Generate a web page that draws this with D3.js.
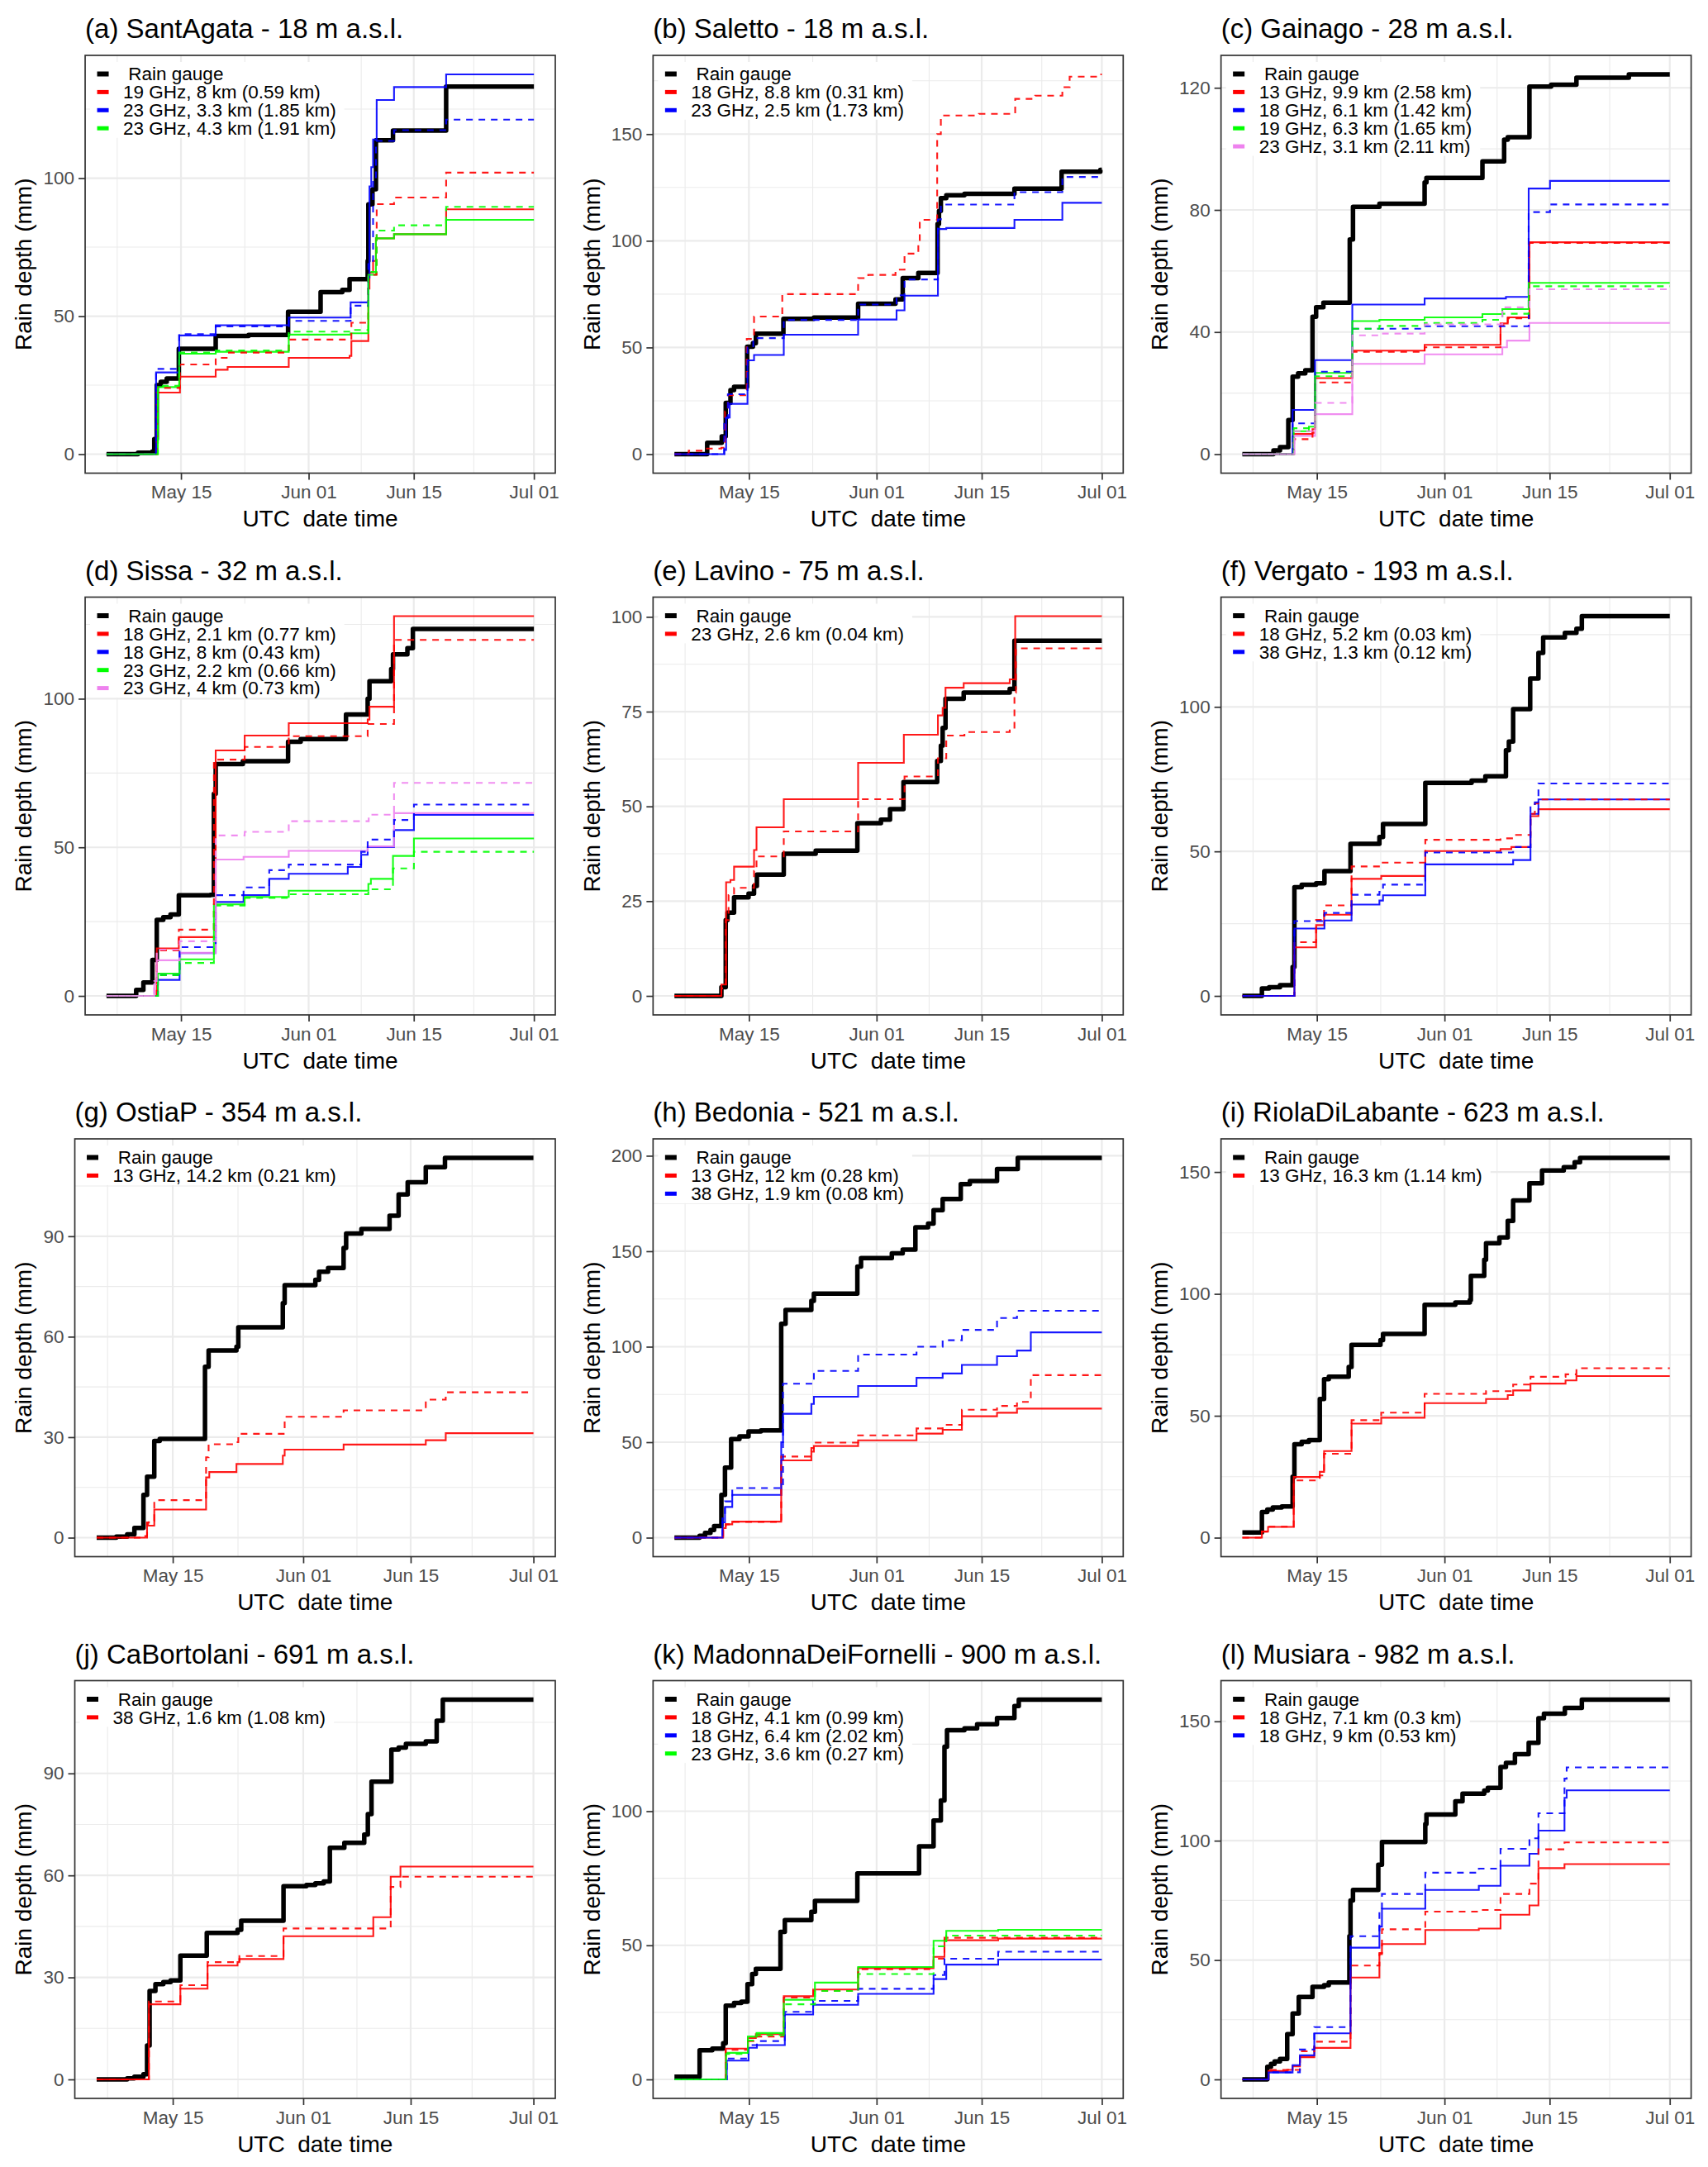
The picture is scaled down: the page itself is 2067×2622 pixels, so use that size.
<!DOCTYPE html>
<html lang="en">
<head>
<meta charset="UTF-8">
<title>Cumulative rain depth</title>
<script src="https://cdn.jsdelivr.net/npm/d3@7"></script>
<style>body{margin:0;background:#fff}</style>
</head>
<body>
<script>
// x values are "day of May" (15 = May 15, 32 = Jun 01, 62 = Jul 01), y values are mm
var periodEnd = 62;
var xTickDays = [15, 32, 46, 62];
var xMinorDays = [6.5, 23.5, 39, 54];

var titles = ["(a) SantAgata - 18 m a.s.l.", "(b) Saletto - 18 m a.s.l.", "(c) Gainago - 28 m a.s.l.",
  "(d) Sissa - 32 m a.s.l.", "(e) Lavino - 75 m a.s.l.", "(f) Vergato - 193 m a.s.l.",
  "(g) OstiaP - 354 m a.s.l.", "(h) Bedonia - 521 m a.s.l.", "(i) RiolaDiLabante - 623 m a.s.l.",
  "(j) CaBortolani - 691 m a.s.l.", "(k) MadonnaDeiFornelli - 900 m a.s.l.", "(l) Musiara - 982 m a.s.l."];

var yTicks = [[0, 50, 100], [0, 50, 100, 150], [0, 40, 80, 120], [0, 50, 100], [0, 25, 50, 75, 100], [0, 50, 100],
  [0, 30, 60, 90], [0, 50, 100, 150, 200], [0, 50, 100, 150], [0, 30, 60, 90], [0, 50, 100], [0, 50, 100, 150]];

var linkLabels = [
  ["19 GHz, 8 km (0.59 km)", "23 GHz, 3.3 km (1.85 km)", "23 GHz, 4.3 km (1.91 km)"],
  ["18 GHz, 8.8 km (0.31 km)", "23 GHz, 2.5 km (1.73 km)"],
  ["13 GHz, 9.9 km (2.58 km)", "18 GHz, 6.1 km (1.42 km)", "19 GHz, 6.3 km (1.65 km)", "23 GHz, 3.1 km (2.11 km)"],
  ["18 GHz, 2.1 km (0.77 km)", "18 GHz, 8 km (0.43 km)", "23 GHz, 2.2 km (0.66 km)", "23 GHz, 4 km (0.73 km)"],
  ["23 GHz, 2.6 km (0.04 km)"],
  ["18 GHz, 5.2 km (0.03 km)", "38 GHz, 1.3 km (0.12 km)"],
  ["13 GHz, 14.2 km (0.21 km)"],
  ["13 GHz, 12 km (0.28 km)", "38 GHz, 1.9 km (0.08 km)"],
  ["13 GHz, 16.3 km (1.14 km)"],
  ["38 GHz, 1.6 km (1.08 km)"],
  ["18 GHz, 4.1 km (0.99 km)", "18 GHz, 6.4 km (2.02 km)", "23 GHz, 3.6 km (0.27 km)"],
  ["18 GHz, 7.1 km (0.3 km)", "18 GHz, 9 km (0.53 km)"]
];

// (a) SantAgata
var gaugeA = [[5.08,0],[9.27,0.5],[11.19,1],[11.44,5.5],[11.77,25],[12.3,26.2],[13.1,27.4],[14.71,38.2],[19.62,42.8],[24,43.2],[29.26,51.6],[33.59,58.7],[36.48,59.5],[37.45,63.4],[39.86,70],[39.95,90.5],[40.5,96],[40.96,113.7],[43.23,117.2],[50.31,133.2]];
var solidA = [
  [[5.08,0],[11.77,22.3],[14.86,28.1],[19.62,30.6],[21.21,31.6],[29.35,34.9],[37.45,35.6],[37.69,41],[39.95,60],[40.1,65.8],[40.58,70],[40.96,78.2],[43.37,79.7],[50.31,88.7]],
  [[5.08,0],[11.68,29.6],[14.76,43],[19.62,46.7],[29.35,49.5],[37.59,55],[39.95,64],[40.1,97],[40.34,104],[40.58,114],[41.06,128.3],[43.37,133],[50.31,137.6]],
  [[5.08,0],[11.92,24.3],[14.76,36.4],[19.62,37.1],[29.35,43.3],[37.59,43.8],[39.95,65],[40.96,78.2],[43.37,79.7],[50.31,84.9]]
];
var dashedA = [
  [[5.08,0],[11.77,24],[14.86,32.5],[19.62,34.9],[21.21,36.8],[29.35,41.5],[37.69,47.6],[39.95,65],[41.06,90.6],[43.37,93],[50.31,102]],
  [[5.08,0],[11.68,30.9],[14.76,43.5],[19.62,46.3],[29.35,48.3],[37.59,53.8],[39.95,70],[40.58,99],[40.96,113.5],[43.37,117.4],[50.31,121.2]],
  [[5.08,0],[11.92,24.8],[14.76,36.8],[19.62,37.6],[29.35,44.4],[37.59,45],[39.95,66],[41.06,81],[43.37,82.9],[50.31,89.6]]
];

// (b) Saletto
var gaugeB = [[5.08,0],[9.44,5.3],[11.38,8.3],[11.91,24],[12.54,30],[13.02,31.6],[14.76,50.4],[15.53,52],[15.92,56.5],[19.59,63.4],[23.65,64],[29.54,70.5],[34.52,72.5],[35.48,82.5],[37.56,84.9],[40.12,107.9],[40.31,114],[40.56,120],[41.28,121.3],[43.7,122],[50.36,124.4],[56.64,132.4],[61.8,133.3]];
var solidB = [
  [[5.08,0],[6.98,1.6],[9.4,2.6],[11.33,3],[11.81,20],[12.2,27.6],[14.71,54],[15.68,64.5],[19.44,75],[29.54,82.5],[30.89,84],[34.52,86.5],[35.72,94],[37.56,98.5],[37.75,109.8],[40.07,150],[40.56,158.7],[45.63,159.5],[50.46,166.5],[53.12,168],[56.74,172],[57.71,176.9]],
  [[5.08,0],[11.71,2],[11.96,17.2],[12.44,23.6],[14.81,44],[15.68,46.5],[19.64,56],[29.54,63.1],[34.66,67.4],[35.72,74.3],[40.17,105.5],[41.28,106],[50.36,109.8],[56.74,117.8]]
];
var dashedB = [
  [[5.08,0],[6.98,1.6],[9.4,2.6],[11.33,3],[11.81,20],[12.2,27.6],[14.71,54],[15.68,64.5],[19.44,75],[29.54,82.5],[30.89,84],[34.52,86.5],[35.72,94],[37.56,98.5],[37.75,109.8],[40.07,150],[40.56,158.7],[45.63,159.5],[50.46,166.5],[53.12,168],[56.74,172],[57.71,176.9],[61.5,178]],
  [[5.08,0],[11.71,17],[12.2,28.1],[14.81,50],[15.58,54.4],[19.64,62.9],[29.54,70.1],[34.66,74.5],[35.72,81.9],[40.17,110],[40.56,117],[50.36,122.8],[56.74,129.9]]
];
// the 18 GHz link in (b) only shows a dashed trace
var solidBShown = [false, true];

// (c) Gainago
var gaugeC = [[5.08,0],[9.22,1.2],[10.09,2.3],[11.2,11.2],[11.77,25.4],[12.5,26.5],[13.46,27.5],[14.42,45],[14.9,48.1],[15.87,49.6],[19.38,70.3],[19.81,81],[23.33,82],[29.35,89],[29.59,90.5],[37.05,95.9],[39.94,103],[40.42,103.8],[43.31,120.4],[46.2,121],[49.57,123.3],[56.55,124.4]];
var solidC = [
  [[5.08,0],[11.87,6.6],[14.42,8.2],[14.76,24.9],[19.72,33.9],[29.35,35.8],[39.46,42.8],[40.42,44.8],[43.31,69.4]],
  [[5.08,0],[11.77,14.5],[14.76,30.8],[19.72,49],[29.35,51],[40.18,51.5],[43.21,87],[46.05,89.5]],
  [[5.08,0],[11.92,7.5],[13.94,9],[14.76,26.6],[19.72,43.6],[23.33,44],[29.35,44.8],[37.05,45.9],[39.7,47.5],[43.21,56.1]],
  [[5.08,0],[12.01,6],[14.76,13.1],[19.72,29.6],[29.35,32.7],[39.7,35],[40.32,37.2],[43.31,43]]
];
var dashedC = [
  [[5.08,0],[11.87,4.9],[14.42,7],[14.76,23.5],[19.72,33.5],[29.35,35],[39.46,42.2],[40.42,44.5],[43.31,69.2]],
  [[5.08,0],[11.77,10.1],[14.76,27],[19.72,41.1],[29.35,41.9],[43.21,79.3],[46.05,81.8]],
  [[5.08,0],[11.92,8.5],[14.76,25.5],[19.72,41.1],[23.33,42],[29.35,43],[37.05,44],[39.7,46],[43.21,55]],
  [[5.08,0],[12.01,7.5],[14.76,16.8],[19.72,38.9],[23.33,39.5],[29.35,42.5],[39.7,48.1],[43.31,54]]
];

// (d) Sissa
var gaugeD = [[5.08,0],[9.03,2],[9.99,4.5],[11.19,12.1],[11.77,25.6],[12.64,26.5],[13.6,27.4],[14.71,33.9],[18.9,34],[19.38,68],[19.62,78],[23.24,79],[29.26,85.5],[30.94,86.4],[36.97,94.7],[39.86,100],[40.1,105.9],[42.99,110],[43.23,114.9],[45.15,117],[45.88,123.5]];
var solidD = [
  [[5.08,0],[11.77,16],[14.71,19.8],[19.62,82.6],[23.48,87.6],[29.35,91.8],[39.86,93],[40.1,97.3],[43.37,127.8]],
  [[5.08,0],[11.92,5.4],[14.81,14.4],[19.62,31.6],[23.33,33.9],[26.75,39.4],[29.35,41.1],[37.21,43.4],[38.99,47.5],[39.86,50.1],[43.37,55.8],[46.02,60.9]],
  [[5.08,0],[11.92,7.5],[14.81,12.3],[19.38,30.8],[23.48,33.3],[29.35,35.4],[39.95,37.7],[40.29,39.4],[43.23,47.1],[46.02,53]],
  [[5.08,0],[11.44,4],[11.77,12],[14.81,14.5],[19.62,45.9],[23.33,46.8],[29.35,48.8],[39.86,50.3],[43.37,61.5]]
];
var dashedD = [
  [[5.08,0],[11.77,15.3],[14.71,22.3],[19.38,79.5],[23.48,83.8],[29.35,87.4],[39.86,91.5],[43.37,119.8]],
  [[5.08,0],[11.92,7],[14.81,16.4],[19.62,33.9],[23.33,36.5],[26.75,42.3],[29.35,44.2],[38.99,48.5],[39.86,52.6],[43.37,59.2],[46.02,64.4]],
  [[5.08,0],[11.92,7],[14.81,11.1],[19.38,30.4],[23.48,33],[29.35,34.2],[39.95,35.9],[43.23,42.9],[46.02,48.5]],
  [[5.08,0],[11.44,5],[11.77,15.6],[14.81,18.4],[19.62,54],[23.48,55.2],[29.35,58.8],[40,61],[43.37,71.7]]
];

// (e) Lavino
var gaugeE = [[5.08,0],[11.33,2.3],[11.91,20],[12.15,22],[13.02,26],[14.95,27],[15.68,29],[16.06,32],[19.64,37.5],[23.89,38.3],[29.44,45.6],[32.58,46.5],[33.79,49.3],[35.58,56.4],[40.07,62],[40.56,66],[40.8,70.7],[41.18,78.4],[43.6,80],[49.73,81],[50.36,93.7]];
var solidE = [
  [[5.08,0],[11.33,3],[11.96,30],[12.54,30.6],[13.02,34.1],[15.68,38.5],[16.01,44.5],[19.64,51.9],[29.54,61.5],[35.63,68.9],[40.17,74],[40.8,76],[41.18,81.3],[43.6,82.5],[49.73,83.5],[50.46,100.2]]
];
var dashedE = [
  [[5.08,0],[11.33,2],[11.91,20],[12.29,26.6],[13.02,28.5],[15.68,33],[16.01,36.8],[19.64,43.4],[29.54,51.9],[35.72,57.9],[40.17,62.7],[41.28,68.7],[43.7,69.6],[49.73,70.5],[50.36,80],[50.56,91.7]]
];

// (f) Vergato
var gaugeF = [[5.08,0],[7.68,2.6],[8.64,3],[10.09,3.7],[11.77,10],[12.01,37.6],[12.98,38.5],[14.9,39],[16.01,43.2],[19.48,52.6],[23.33,55],[23.81,59.5],[29.44,73.7],[35.61,74.5],[37.44,76],[40.18,85],[40.57,88],[41.14,99.2],[43.41,109.8],[44.51,118.7],[45.14,124],[48.03,125.6],[49.57,127],[50.29,131.4]];
var solidF = [
  [[5.08,0],[12.01,16.8],[14.9,24.5],[15.96,28.1],[19.62,40.5],[23.57,41.5],[29.44,50.1],[39.46,50.8],[40.9,51.5],[43.45,62.2],[44.51,64.6]],
  [[5.08,0],[12.01,23.3],[16.01,26.1],[19.62,31.6],[23.33,33],[23.81,34.8],[29.44,45.5],[41.14,47],[43.45,63],[44.51,68]]
];
var dashedF = [
  [[5.08,0],[12.01,18.6],[14.9,26.3],[15.96,31.3],[19.62,44.8],[23.57,46.1],[29.44,54],[39.46,54.5],[41.14,55.7],[43.45,63],[44.03,66.6],[44.51,68]],
  [[5.08,0],[12.01,25.9],[16.01,28.7],[19.62,35],[23.33,36],[23.81,38.5],[29.44,49.6],[41.14,51.5],[43.45,66],[44.03,67],[44.51,73.5]]
];

// (g) OstiaP
var gaugeG = [[5.08,0],[7.64,0.3],[9.06,1],[10,2.9],[11.18,12.8],[11.65,18.2],[12.59,28.9],[13.3,29.5],[19.2,51],[19.67,55.9],[23.3,57],[23.54,62.8],[29.34,70],[29.58,75.4],[33.58,77],[34.06,79.4],[35.24,80.5],[37.26,86.5],[37.59,90.8],[39.58,92.2],[43.25,96.1],[44.43,102.5],[45.61,106.1],[47.97,110.6],[50.47,113.4]];
var solidG = [
  [[5.08,0],[11.42,0.5],[11.65,4.5],[11.79,3.6],[12.59,8.4],[19.34,18],[19.76,19.6],[23.3,22],[29.34,24.5],[29.58,26.3],[37.26,27.8],[47.97,29.1],[50.57,31.2]]
];
var dashedG = [
  [[5.08,0],[11.65,4.5],[11.89,5],[12.59,11.2],[19.34,24],[19.67,27.9],[23.3,28.5],[23.54,31],[29.58,36.1],[37.26,38],[47.97,41.2],[50.57,43.4]]
];

// (h) Bedonia
var gaugeH = [[5.08,0],[8.43,1],[9.15,2.5],[9.88,4],[10.36,6.1],[11.33,22.4],[11.81,36.7],[12.63,51.6],[13.74,53],[14.95,55.6],[16.6,56.2],[19.3,112],[19.88,119.2],[23.31,124],[23.65,127.8],[29.44,142],[29.93,146.4],[34.03,148.9],[35.48,150.9],[37.17,162.5],[38.86,164.5],[39.59,171.5],[40.8,177.4],[43.21,185.1],[44.42,186.8],[48.04,193],[50.8,198.9]];
var solidH = [
  [[5.08,0],[11.57,5],[11.91,7],[12.78,8.4],[19.3,40.5],[23.31,45],[23.65,48],[29.54,51],[37.32,54.5],[40.8,56.5],[43.36,63.6],[48.04,65.4],[50.7,67.6]],
  [[5.08,0],[11.47,8],[11.81,16.1],[12.78,22.4],[19.3,50],[19.54,64.9],[23.31,70],[23.65,73.8],[29.54,79.4],[37.32,83.7],[40.8,86],[43.36,90.5],[48.04,95],[50.7,98],[52.54,107.5]]
];
var dashedH = [
  [[5.08,0],[11.57,5],[11.91,7],[12.78,8.3],[19.3,42.5],[23.31,47],[23.65,49.8],[29.54,53.6],[37.32,57.2],[40.8,59.1],[43.36,67],[48.04,69],[50.7,71.1],[52.54,85.1]],
  [[5.08,0],[11.47,10],[11.81,19],[12.78,26],[19.3,27],[19.54,80.6],[23.31,81.5],[23.65,87.3],[29.54,95.9],[37.32,100],[40.8,103.4],[43.36,108.8],[48.04,115],[50.7,118.8]]
];

// (i) RiolaDiLabante
var gaugeI = [[5.08,2.1],[7.68,10.5],[8.4,11.5],[9.13,12.4],[10.33,12.8],[11.77,25],[12.01,38.3],[12.98,39.3],[13.94,40],[15.39,56.9],[15.96,65],[16.59,66],[19.24,70],[19.62,79.1],[23.47,81],[23.81,83.6],[29.35,95.5],[33.44,96.5],[35.37,97.5],[35.51,107.4],[37.29,114],[37.53,120.8],[39.31,123.2],[40.42,129.9],[41.14,138.3],[43.31,145.4],[44.99,150.6],[47.88,152],[49.33,154],[50.05,155.8]];
var solidI = [
  [[5.08,0],[7.68,2.5],[8.5,4.4],[11.92,24.9],[15.39,27],[15.96,35.5],[19.62,46.8],[23.57,49.2],[29.35,55.2],[37.53,56.9],[40.42,58.5],[41.14,60.4],[43.45,63.2],[48.12,64.5],[49.57,66.3]]
];
var dashedI = [
  [[5.08,0],[7.68,2.5],[8.5,4.5],[11.92,23.5],[15.39,25.5],[15.96,34.4],[19.62,48.2],[23.57,51.3],[29.35,59],[37.53,60.1],[41.14,62.8],[43.45,66],[48.12,67],[49.57,69.5]]
];

// (j) CaBortolani
var gaugeJ = [[5.08,0],[9.06,0.3],[10,0.8],[11.18,1.5],[11.65,10],[11.98,26],[12.74,28],[13.77,28.6],[14.72,29.1],[15.99,36.4],[19.43,43.1],[23.44,44],[23.92,46.7],[29.43,56.8],[32.41,57.2],[33.58,57.7],[34.67,58.2],[35.47,68.1],[37.36,69.6],[39.95,72],[40.42,78],[40.9,87.6],[43.49,97],[44.43,97.6],[45.38,98.7],[47.97,99.4],[49.39,105.5],[50.19,111.7]];
var solidJ = [
  [[5.08,0],[11.89,22.1],[15.99,26.7],[19.53,33.5],[23.44,34.5],[23.68,35.4],[29.43,42.1],[41.13,47.7],[43.4,59.6],[44.67,62.6]]
];
var dashedJ = [
  [[5.08,0],[11.89,22.9],[15.99,27.7],[19.53,34.5],[23.68,36.3],[29.43,44.4],[43.4,56.6],[44.67,59.6]]
];

// (k) MadonnaDeiFornelli
var gaugeK = [[5.08,1],[8.43,10.9],[10.12,11.5],[11.57,13.5],[11.91,27.5],[13.02,28.5],[13.99,29],[14.81,35.5],[15.43,39.3],[15.92,41.2],[19.2,55],[19.78,59.4],[23.31,62.5],[23.79,66.6],[29.44,76.8],[37.66,86.9],[39.59,96.5],[40.56,104],[41.04,124],[41.38,130.2],[43.7,130.9],[45.39,132.4],[48.04,134.7],[50.36,139.2],[50.94,141.6]];
var solidK = [
  [[5.08,0],[11.91,11.5],[14.86,15.4],[15.92,16.9],[19.64,31],[23.55,33.5],[29.54,41.5],[39.59,45.7],[41.04,51.9],[48.19,52.5]],
  [[5.08,0],[12.05,7],[14.95,11.8],[16.06,12.8],[19.78,24.2],[23.55,27.8],[29.54,31.9],[39.59,37.4],[41.28,42.8],[48.19,44.7]],
  [[5.08,0],[11.96,9.9],[14.86,16],[16.01,17.3],[19.64,29.7],[23.79,36.1],[29.54,41.9],[39.59,51.7],[41.28,55.4],[48.19,55.8]]
];
var dashedK = [
  [[5.08,0],[11.91,11],[14.86,14.3],[15.92,16],[19.64,30.5],[23.55,33],[29.54,41.1],[39.59,45],[41.04,52.8]],
  [[5.08,0],[12.05,7.8],[14.95,12.8],[16.06,14.3],[19.78,25.2],[23.55,29.3],[29.54,33.8],[39.59,38.9],[41.04,45],[48.19,47.6]],
  [[5.08,0],[11.96,9.5],[14.86,14.5],[16.01,16.5],[19.64,28],[23.79,33],[29.54,39.3],[39.59,49.6],[41.28,53.6]]
];

// (l) Musiara
var gaugeL = [[5.08,0],[8.4,5.3],[8.89,6.5],[9.37,7.5],[10.09,8.6],[11.05,19],[11.77,27.6],[12.59,34.5],[14.42,38.8],[15.96,39.5],[16.59,40.6],[19.33,60],[19.48,75],[19.81,79.4],[23.18,89.9],[23.67,99.5],[29.44,107],[29.59,111],[33.44,116.5],[34.4,119.7],[37.29,121],[37.77,122.1],[39.46,130.9],[40.18,132.6],[41.38,136.2],[43.21,141],[44.51,151.3],[45.24,153.2],[48.03,155.6],[50.29,159.1]];
var solidL = [
  [[5.08,0],[8.55,3.5],[11.05,4],[11.77,5.5],[12.74,9.3],[14.66,13.2],[19.48,42.7],[23.33,52.5],[23.67,56.7],[29.44,62.6],[36.57,63.2],[39.46,69],[43.31,72.9],[44.51,88.5],[47.98,90.2]],
  [[5.08,0],[8.55,2.9],[11.77,6],[12.74,10.1],[14.66,19.3],[19.48,55.2],[23.33,64],[23.67,71.5],[29.44,79.4],[36.57,81.1],[39.46,89.5],[43.31,94.5],[44.51,104.2],[47.98,118],[48.27,121.1]]
];
var dashedL = [
  [[5.08,0],[8.55,4],[12.74,11.8],[14.66,15.8],[19.48,47.7],[23.33,53],[23.67,62.9],[29.44,70.3],[36.57,71],[39.46,77.7],[43.31,82],[44.51,96.4],[47.98,99.3]],
  [[5.08,0],[8.55,3],[12.74,12.5],[14.66,21.9],[19.48,60],[23.33,70],[23.67,77.7],[29.44,86.6],[36.57,88.3],[39.46,96.6],[43.31,101],[44.51,111.5],[47.98,126],[48.27,130.7]]
];

var gauges = [gaugeA, gaugeB, gaugeC, gaugeD, gaugeE, gaugeF, gaugeG, gaugeH, gaugeI, gaugeJ, gaugeK, gaugeL];
var solids = [solidA, solidB.filter(function (s, i) { return solidBShown[i]; }), solidC, solidD, solidE, solidF, solidG, solidH, solidI, solidJ, solidK, solidL];
var solidColourIndex = [null, [1], null, null, null, null, null, null, null, null, null, null];
var dasheds = [dashedA, dashedB, dashedC, dashedD, dashedE, dashedF, dashedG, dashedH, dashedI, dashedJ, dashedK, dashedL];

// styling
var W = 2067, H = 2622, cellW = 687.3, cellH = 655.5;
var font = "'Liberation Sans', Arial, Helvetica, sans-serif";
var linkColours = ["#FF0000", "#0000FF", "#00FF00", "#EE82EE"];

var toDate = function (d) { return new Date(Date.UTC(2019, 4, 1) + (d - 1) * 864e5); };
var withEnd = function (s) { return s.concat([[periodEnd, s[s.length - 1][1]]]); };

var svg = d3.select("body").append("svg")
    .attr("width", W)
    .attr("height", H)
    .style("background", "#fff");

var probe = svg.append("text").attr("font-family", font).attr("font-size", 22.5);
function textW(s) { probe.text(s); return probe.node().getComputedTextLength(); }

var line = d3.line().curve(d3.curveStepAfter);

titles.forEach(function (title, i) {
    var col = i % 3, row = Math.floor(i / 3);
    var bx = col * cellW, by = row * cellH;
    var ticks = yTicks[i];
    var tickW = d3.max(ticks, function (t) { return textW(String(t)); });
    var left = bx + 65.5 + tickW, right = bx + 672, top = by + 67, bottom = by + 572.5;

    var gauge = withEnd(gauges[i]);
    var solid = solids[i].map(withEnd);
    var dashed = dasheds[i].map(withEnd);
    var pts = d3.merge([gauge].concat(solid, dashed));

    var xExt = d3.extent(pts, function (d) { return d[0]; });
    var yExt = d3.extent(pts, function (d) { return d[1]; });
    var xPad = (xExt[1] - xExt[0]) * 0.05, yPad = (yExt[1] - yExt[0]) * 0.05;

    var x = d3.scaleUtc()
        .domain([toDate(xExt[0] - xPad), toDate(xExt[1] + xPad)])
        .range([left, right]);
    var y = d3.scaleLinear()
        .domain([yExt[0] - yPad, yExt[1] + yPad])
        .range([bottom, top]);

    line.x(function (d) { return x(toDate(d[0])); }).y(function (d) { return y(d[1]); });

    var g = svg.append("g");

    // grid
    var step = ticks[1] - ticks[0];
    var yMinor = d3.range(ticks[0] - step / 2, y.domain()[1], step).filter(function (v) { return v > y.domain()[0]; });
    g.selectAll(".ymin").data(yMinor).enter().append("line")
        .attr("x1", left).attr("x2", right)
        .attr("y1", function (d) { return y(d); }).attr("y2", function (d) { return y(d); })
        .attr("stroke", "#EBEBEB").attr("stroke-width", 1.1);
    g.selectAll(".xmin").data(xMinorDays).enter().append("line")
        .attr("y1", top).attr("y2", bottom)
        .attr("x1", function (d) { return x(toDate(d)); }).attr("x2", function (d) { return x(toDate(d)); })
        .attr("stroke", "#EBEBEB").attr("stroke-width", 1.1);
    g.selectAll(".ymaj").data(ticks).enter().append("line")
        .attr("x1", left).attr("x2", right)
        .attr("y1", function (d) { return y(d); }).attr("y2", function (d) { return y(d); })
        .attr("stroke", "#EBEBEB").attr("stroke-width", 2.2);
    g.selectAll(".xmaj").data(xTickDays).enter().append("line")
        .attr("y1", top).attr("y2", bottom)
        .attr("x1", function (d) { return x(toDate(d)); }).attr("x2", function (d) { return x(toDate(d)); })
        .attr("stroke", "#EBEBEB").attr("stroke-width", 2.2);

    // series
    g.append("path").attr("d", line(gauge))
        .attr("fill", "none").attr("stroke", "#000").attr("stroke-width", 5.5).attr("stroke-linejoin", "round");
    solid.forEach(function (s, k) {
        var ci = solidColourIndex[i] ? solidColourIndex[i][k] : k;
        g.append("path").attr("d", line(s))
            .attr("fill", "none").attr("stroke", linkColours[ci]).attr("stroke-opacity", 0.9)
            .attr("stroke-width", 2.1);
    });
    dashed.forEach(function (s, k) {
        g.append("path").attr("d", line(s))
            .attr("fill", "none").attr("stroke", linkColours[k]).attr("stroke-opacity", 0.9)
            .attr("stroke-width", 2.1).attr("stroke-dasharray", "8,7");
    });

    // legend
    var labels = linkLabels[i];
    var labW = d3.max(labels, textW);
    var rowH = 21.9;
    var lg = g.append("g");
    lg.append("rect")
        .attr("x", left + 6).attr("y", top + 8)
        .attr("width", 46 + labW + 4).attr("height", rowH * labels.length + 26)
        .attr("fill", "#fff");
    var entries = [" Rain gauge"].concat(labels);
    entries.forEach(function (lab, k) {
        var cy = top + 22.5 + k * rowH;
        lg.append("line")
            .attr("x1", left + 14.5).attr("x2", left + 28.5).attr("y1", cy).attr("y2", cy)
            .attr("stroke", k === 0 ? "#000" : linkColours[k - 1]).attr("stroke-width", k === 0 ? 6 : 5);
        lg.append("text")
            .attr("x", left + 46).attr("y", cy).attr("dy", "0.35em")
            .attr("font-family", font).attr("font-size", 22.5).attr("fill", "#000")
            .style("white-space", "pre")
            .text(lab);
    });

    // border
    g.append("rect").attr("x", left).attr("y", top).attr("width", right - left).attr("height", bottom - top)
        .attr("fill", "none").attr("stroke", "#333333").attr("stroke-width", 1.7);

    // axes
    var gx = g.append("g").attr("transform", "translate(0," + bottom + ")")
        .call(d3.axisBottom(x).tickValues(xTickDays.map(toDate)).tickFormat(d3.utcFormat("%b %d"))
            .tickSize(8).tickPadding(7));
    var gy = g.append("g").attr("transform", "translate(" + left + ",0)")
        .call(d3.axisLeft(y).tickValues(ticks).tickSize(8).tickPadding(5));
    [gx, gy].forEach(function (a) {
        a.select(".domain").remove();
        a.selectAll("line").attr("stroke", "#333333").attr("stroke-width", 1.7);
        a.selectAll("text").attr("fill", "#4D4D4D").attr("font-size", 22.5).attr("font-family", font);
    });

    // titles
    g.append("text").attr("x", left).attr("y", top - 21)
        .attr("font-family", font).attr("font-size", 33).attr("fill", "#000")
        .text(title);
    g.append("text").attr("x", (left + right) / 2).attr("y", bottom + 55).attr("dy", "0.35em")
        .attr("text-anchor", "middle").attr("font-family", font).attr("font-size", 28).attr("fill", "#000")
        .style("white-space", "pre")
        .text("UTC  date time");
    g.append("text")
        .attr("transform", "translate(" + (bx + 28.5) + "," + ((top + bottom) / 2) + ") rotate(-90)")
        .attr("dy", "0.35em")
        .attr("text-anchor", "middle").attr("font-family", font).attr("font-size", 28).attr("fill", "#000")
        .text("Rain depth (mm)");
});

probe.remove();
</script>
</body>
</html>
